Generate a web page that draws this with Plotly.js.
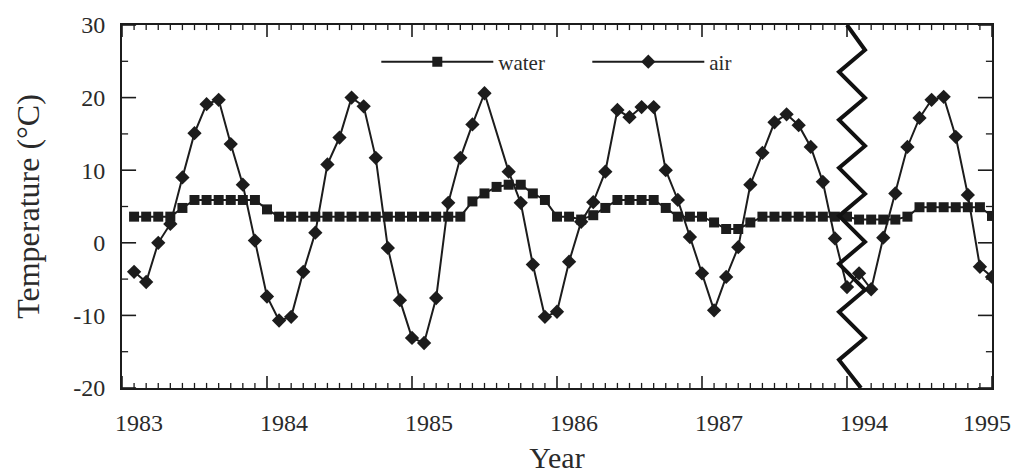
<!DOCTYPE html>
<html><head><meta charset="utf-8">
<script src="https://cdn.plot.ly/plotly-3.0.1.min.js"></script>
<style>html,body{margin:0;padding:0;background:#fff}</style>
</head><body>
<div id="chart" style="width:1015px;height:474px"></div>
<script>
// Year segments shown on the (broken) time axis, and their tick labels
const segmentYears = [1983, 1984, 1985, 1986, 1987, 1994];
const tickLabels = ['1983', '1984', '1985', '1986', '1987', '1994', '1995'];
const monthNumbers = [1, 2, 3, 4, 5, 6, 7, 8, 9, 10, 11, 12];
const yTickValues = [-20, -10, 0, 10, 20, 30];
const yTickLabels = ['-20', '-10', '0', '10', '20', '30'];
const yMinorValues = [-15, -5, 5, 15, 25];

// Monthly air temperature (°C), Jan..Dec for each segment year (null = no point shown)
const air1983 = [-4.0, -5.4, 0.0, 2.6, 9.0, 15.1, 19.1, 19.7, 13.6, 8.0, 0.3, -7.4];
const air1984 = [-10.7, -10.2, -4.0, 1.4, 10.8, 14.5, 20.0, 18.8, 11.7, -0.7, -7.9, -13.1];
const air1985 = [-13.8, -7.6, 5.5, 11.7, 16.3, 20.6, null, 9.8, 5.5, -3.0, -10.2, -9.5];
const air1986 = [-2.6, 2.9, 5.6, 9.8, 18.3, 17.3, 18.7, 18.7, 10.0, 5.9, 0.8, -4.2];
const air1987 = [-9.3, -4.7, -0.6, 8.0, 12.4, 16.6, 17.7, 16.2, 13.2, 8.4, 0.6, -6.1];
const air1994 = [-4.2, -6.4, 0.7, 6.8, 13.2, 17.2, 19.7, 20.1, 14.6, 6.6, -3.3, -4.7];

// Monthly water temperature (°C)
const water1983 = [3.6, 3.6, 3.6, 3.6, 4.8, 5.9, 5.9, 5.9, 5.9, 5.9, 5.9, 4.6];
const water1984 = [3.6, 3.6, 3.6, 3.6, 3.6, 3.6, 3.6, 3.6, 3.6, 3.6, 3.6, 3.6];
const water1985 = [3.6, 3.6, 3.6, 3.6, 5.7, 6.8, 7.7, 8.0, 8.0, 6.8, 5.9, 3.6];
const water1986 = [3.6, 3.2, 3.8, 4.8, 5.9, 5.9, 5.9, 5.9, 4.8, 3.6, 3.6, 3.6];
const water1987 = [2.8, 1.9, 1.9, 2.8, 3.6, 3.6, 3.6, 3.6, 3.6, 3.6, 3.6, 3.6];
const water1994 = [3.2, 3.2, 3.2, 3.2, 3.6, 4.9, 4.9, 4.9, 4.9, 4.9, 4.9, 3.7];

const airTemp = [air1983, air1984, air1985, air1986, air1987, air1994];
const waterTemp = [water1983, water1984, water1985, water1986, water1987, water1994];

// Axis position: segment index + month/12 (the axis is broken between 1987 and 1994)
function positions() {
  const xs = [];
  segmentYears.forEach((yr, s) => monthNumbers.forEach(m => xs.push(s + m / 12)));
  return xs;
}
const xPos = positions();
const flat = arr => arr.reduce((a, b) => a.concat(b), []);

const ink = '#1c1c1c';
const txt = '#2a2a2a';
const serif = 'Liberation Serif, Times New Roman, serif';

const water = {
  name: 'water', x: xPos, y: flat(waterTemp), mode: 'lines+markers',
  line: {color: ink, width: 2}, marker: {symbol: 'square', size: 10, color: ink},
  hoverinfo: 'skip', connectgaps: true
};
const airT = {
  name: 'air', x: xPos, y: flat(airTemp), mode: 'lines+markers',
  line: {color: ink, width: 2}, marker: {symbol: 'diamond', size: 11, color: ink},
  hoverinfo: 'skip', connectgaps: true
};

const nSeg = segmentYears.length;
const xRange = [0, nSeg], yRange = [-20, 30];
// labels sit a little right of their ticks in the original; the last one is pulled inside
const labelShift = 0.118, lastLabelShift = -0.035;
const labelPos = tickLabels.map((t, i) => i < tickLabels.length - 1 ? i + labelShift : i + lastLabelShift);

// axis-break zigzag (decoration), anchored at the break position
function zigzagPath() {
  let p = 'M0,30';
  for (let k = 0; k < 7; k++) {
    p += ' L18,' + (26.56 - 6.61 * k).toFixed(2);
    p += ' L-8,' + (23.53 - 6.61 * k).toFixed(2);
  }
  p += ' L14,-20';
  return p;
}

// inward-pointing frame ticks on all four sides; tick lengths expressed in axis units
const xMajorLen = 1.65, xMinorLen = 0.7;    // in y units (≈12 px / 5 px)
const yMajorLen = 0.097, yMinorLen = 0.042; // in x units (≈14 px / 6 px)
function frameTicks() {
  const out = [];
  const seg = (x0, x1, y0, y1, w) => out.push({type: 'line', xref: 'x', yref: 'y', x0, x1, y0, y1, line: {color: ink, width: w}, layer: 'above'});
  const xt = (v, len, w) => { seg(v, v, yRange[0], yRange[0] + len, w); seg(v, v, yRange[1], yRange[1] - len, w); };
  const yt = (v, len, w) => { seg(xRange[0], xRange[0] + len, v, v, w); seg(xRange[1], xRange[1] - len, v, v, w); };
  tickLabels.forEach((t, i) => xt(i, xMajorLen, 1.6));
  segmentYears.forEach((yr, s) => monthNumbers.slice(0, 11).forEach(m => xt(s + m / 12, xMinorLen, 1.3)));
  yTickValues.forEach(v => yt(v, yMajorLen, 1.6));
  yMinorValues.forEach(v => yt(v, yMinorLen, 1.3));
  return out;
}

const layout = {
  width: 1015, height: 474,
  margin: {l: 122, r: 23, t: 25, b: 86},
  paper_bgcolor: '#fff', plot_bgcolor: '#fff',
  font: {family: serif, color: txt},
  showlegend: true,
  legend: {
    orientation: 'h', x: 0.2923, y: 0.898, xanchor: 'left', yanchor: 'middle',
    itemwidth: 112, entrywidth: 84, font: {family: serif, size: 21, color: txt},
    bgcolor: 'rgba(0,0,0,0)', traceorder: 'normal'
  },
  xaxis: {
    range: xRange, tickmode: 'array', tickvals: labelPos, ticktext: tickLabels,
    ticks: '', mirror: true, showline: true, linewidth: 2, linecolor: ink,
    showgrid: false, zeroline: false, ticklabeloverflow: 'allow',
    tickfont: {family: serif, size: 24, color: txt}, ticklabelstandoff: 12,
    title: {text: 'Year', font: {family: serif, size: 30, color: txt}, standoff: 14}
  },
  yaxis: {
    range: yRange, tickmode: 'array', tickvals: yTickValues, ticktext: yTickLabels,
    ticks: '', mirror: true, showline: true, linewidth: 2, linecolor: ink,
    showgrid: false, zeroline: false,
    tickfont: {family: serif, size: 24, color: txt}, ticklabelstandoff: 10,
    title: {text: 'Temperature (°C)', font: {family: serif, size: 32, color: txt}, standoff: 24}
  },
  shapes: frameTicks().concat([{
    type: 'path', xref: 'x', yref: 'y', xsizemode: 'pixel', xanchor: nSeg - 1,
    path: zigzagPath(), line: {color: '#111', width: 4}, layer: 'above'
  }])
};

Plotly.newPlot('chart', [water, airT], layout, {displayModeBar: false});
</script>
</body></html>
